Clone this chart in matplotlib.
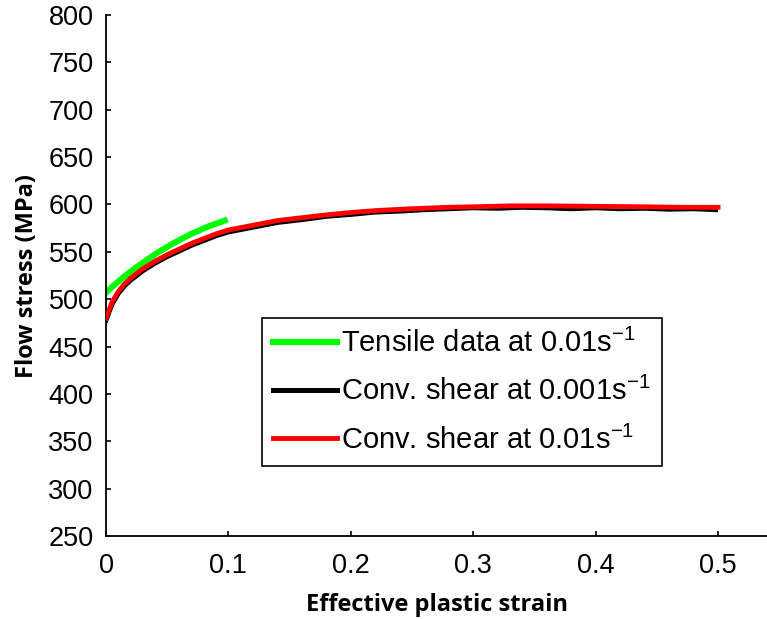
import matplotlib
matplotlib.use("Agg")
import matplotlib.pyplot as plt

# ---- data ----
tensile_strain = [0.0, 0.005, 0.014, 0.025, 0.042, 0.055, 0.069, 0.083, 0.097]
tensile_stress = [507, 513, 523, 534, 549, 559, 568.5, 576.5, 583]

shear_slow_strain = [0.0, 0.002, 0.005, 0.01, 0.015, 0.02, 0.03, 0.04, 0.05, 0.06,
                     0.07, 0.08, 0.09, 0.1, 0.12, 0.14, 0.16, 0.18, 0.2, 0.22,
                     0.24, 0.26, 0.28, 0.3, 0.32, 0.34, 0.36, 0.38, 0.4, 0.42,
                     0.44, 0.46, 0.48, 0.498]
shear_slow_stress = [478, 485, 495, 506, 514, 520, 530, 538, 545, 551,
                     557, 562, 567, 571, 576, 581, 584, 587.5, 589.5, 592,
                     593, 594.5, 595.5, 596.5, 596, 597, 596.5, 595.5, 596.5, 595.5,
                     596, 595, 595.5, 594.5]

shear_fast_strain = [0.0, 0.002, 0.005, 0.01, 0.015, 0.02, 0.03, 0.04, 0.05, 0.06,
                     0.07, 0.08, 0.09, 0.1, 0.12, 0.14, 0.16, 0.18, 0.2, 0.22,
                     0.25, 0.28, 0.3, 0.33, 0.36, 0.4, 0.44, 0.47, 0.5]
shear_fast_stress = [480, 487, 497, 508, 516, 522, 532, 540, 547, 553,
                     559, 564, 569, 573, 578, 583, 586, 589, 591.5, 593.5,
                     595.5, 597, 597.5, 598.5, 598.5, 598, 597.5, 597, 597]

labels = ["Tensile data at 0.01s$^{-1}$",
          "Conv. shear at 0.001s$^{-1}$",
          "Conv. shear at 0.01s$^{-1}$"]

x_ticks = [0, 0.1, 0.2, 0.3, 0.4, 0.5]
x_ticklabels = ["0", "0.1", "0.2", "0.3", "0.4", "0.5"]
y_ticks = list(range(250, 801, 50))

# ---- style ----
plt.rcParams["font.family"] = ["Liberation Sans", "DejaVu Sans"]
plt.rcParams["mathtext.fontset"] = "custom"
plt.rcParams["mathtext.rm"] = "Liberation Sans"
plt.rcParams["mathtext.it"] = "Liberation Sans"
plt.rcParams["mathtext.default"] = "regular"

W, H = 767, 619
fig = plt.figure(figsize=(W / 100, H / 100), dpi=100)
ax = fig.add_axes([106 / W, (H - 536) / H, (W - 106) / W, (536 - 15) / H])

ax.plot(shear_slow_strain, shear_slow_stress, color="black", lw=3.6,
        label=labels[1], zorder=2)
ax.plot(shear_fast_strain, shear_fast_stress, color="#ff0000", lw=3.5,
        label=labels[2], zorder=3)
ax.plot(tensile_strain, tensile_stress, color="#00ff00", lw=4.4,
        label=labels[0], zorder=1)

ax.set_xlim(0, 0.54)
ax.set_ylim(250, 800)
ax.set_xticks(x_ticks)
ax.set_xticklabels(x_ticklabels)
ax.set_yticks(y_ticks)

for side in ["top", "right"]:
    ax.spines[side].set_visible(False)
for side in ["left", "bottom"]:
    ax.spines[side].set_linewidth(1.3)

ax.tick_params(direction="in", length=3.5, width=1.2, labelsize=19.5)
ax.tick_params(axis="x", pad=12)
ax.tick_params(axis="y", pad=9)

label_font = dict(family=["Open Sans", "DejaVu Sans"], fontweight="bold",
                  fontsize=17)
ax.set_xlabel("Effective plastic strain", labelpad=10, **label_font)
ax.set_ylabel("Flow stress (MPa)", labelpad=7, **label_font)

handles, labs = ax.get_legend_handles_labels()
order = [2, 0, 1]
leg = ax.legend([handles[i] for i in order], [labs[i] for i in order],
                loc="upper left",
                bbox_to_anchor=(262 / W, 1 - 318 / H),
                bbox_transform=fig.transFigure,
                borderaxespad=0, fontsize=21, handlelength=2.2,
                handletextpad=0.14, borderpad=0.38, labelspacing=0.65,
                fancybox=False, framealpha=1, edgecolor="black")
leg.get_frame().set_linewidth(1.2)

fig.savefig("out.png", dpi=100)
